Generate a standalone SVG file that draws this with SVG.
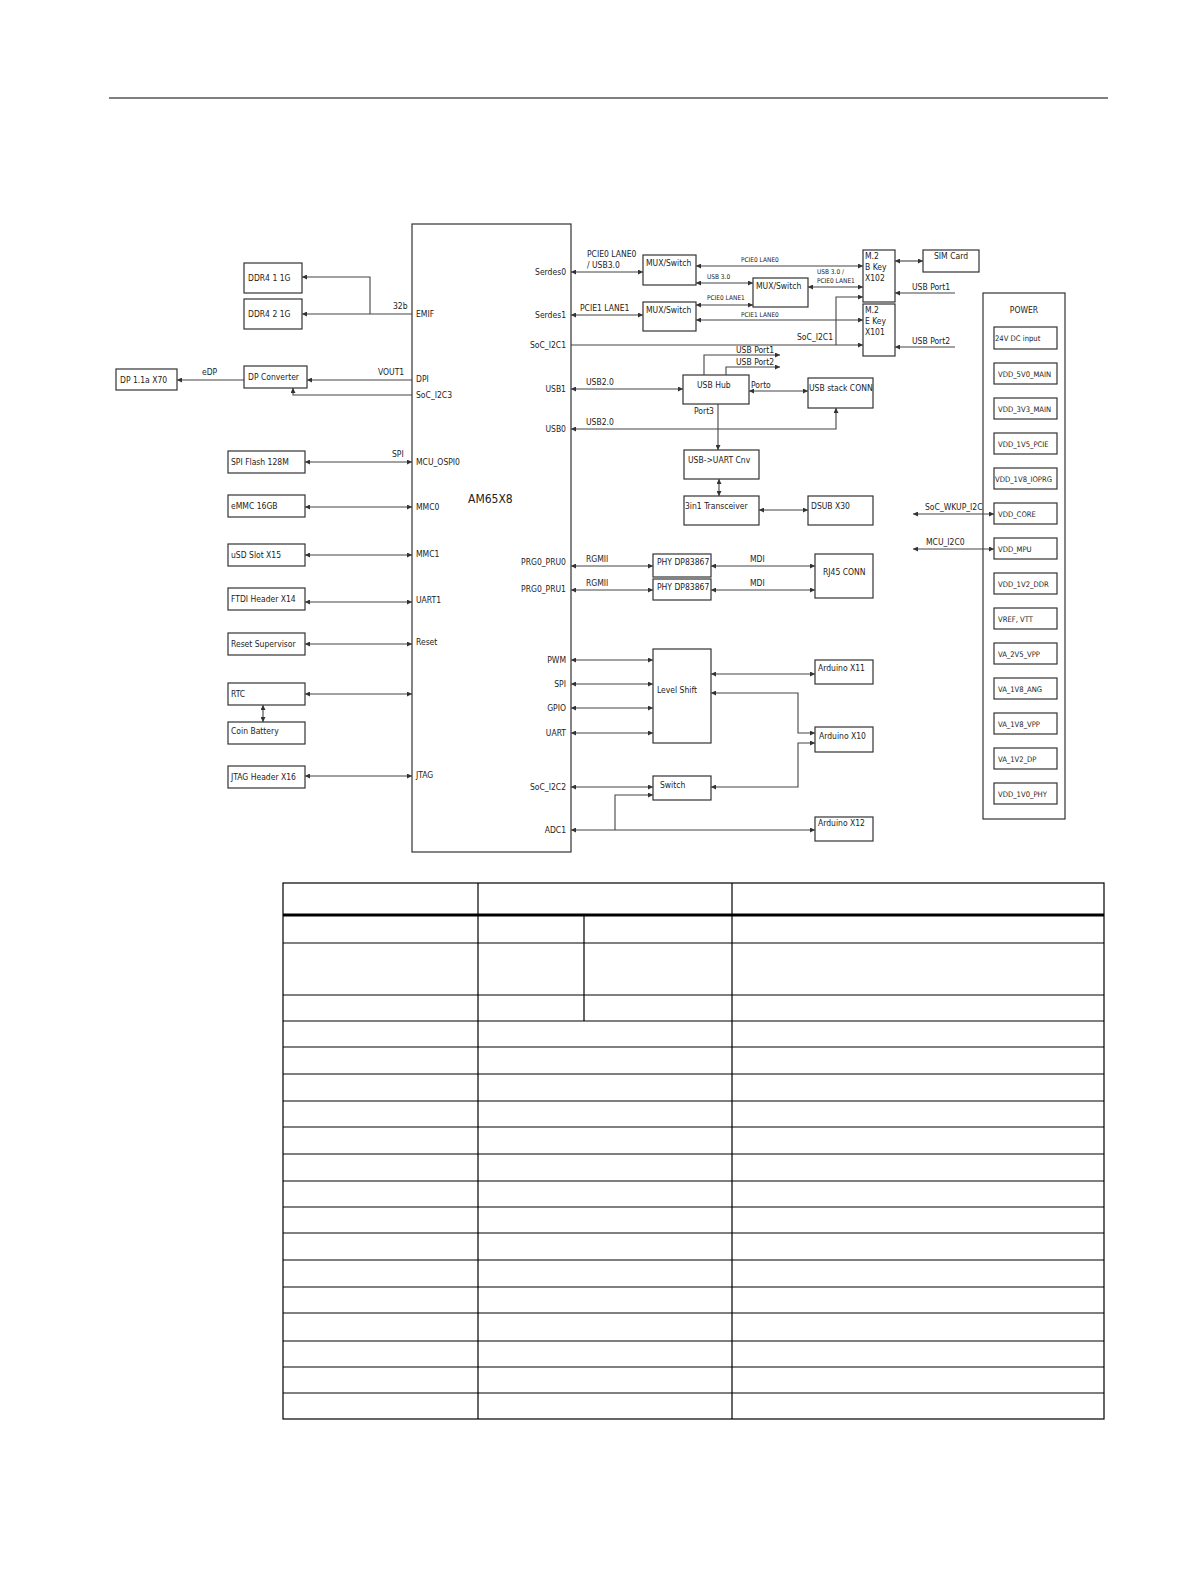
<svg xmlns="http://www.w3.org/2000/svg" width="1191" height="1587" viewBox="0 0 1191 1587">
<style>
rect{fill:#fff;stroke:#333;stroke-width:1.2}
text{font-family:"DejaVu Sans Condensed","Liberation Sans Narrow","Liberation Sans",sans-serif;font-size:8.5px;fill:#222}
.s{font-size:6.5px}
.b{font-size:12px}
#power g text{font-size:7.6px}
#connectors path,#connectors line{fill:none;stroke:#444;stroke-width:1.1}
.a2{marker-start:url(#ah);marker-end:url(#ah)}
.a1{marker-end:url(#ah)}
#table line{stroke:#000;stroke-width:1.2}
</style>
<defs>
<marker id="ah" viewBox="0 0 6 6" refX="6" refY="3" markerWidth="5" markerHeight="5" markerUnits="userSpaceOnUse" orient="auto-start-reverse"><path d="M0,0L6,3L0,6z" fill="#333"/></marker>
</defs>
<line x1="109" y1="98" x2="1108" y2="98" stroke="#000" stroke-width="1"/>

<g id="am"><rect x="412" y="224" width="159" height="628"/><text x="468" y="503" class="b">AM65X8</text>
<text x="416" y="317">EMIF</text><text x="416" y="382">DPI</text><text x="416" y="398">SoC_I2C3</text><text x="416" y="465">MCU_OSPI0</text><text x="416" y="510">MMC0</text><text x="416" y="557">MMC1</text><text x="416" y="603">UART1</text><text x="416" y="645">Reset</text><text x="416" y="778">JTAG</text>
<g text-anchor="end"><text x="566" y="275">Serdes0</text><text x="566" y="318">Serdes1</text><text x="566" y="348">SoC_I2C1</text><text x="566" y="392">USB1</text><text x="566" y="432">USB0</text><text x="566" y="565">PRG0_PRU0</text><text x="566" y="592">PRG0_PRU1</text><text x="566" y="663">PWM</text><text x="566" y="687">SPI</text><text x="566" y="711">GPIO</text><text x="566" y="736">UART</text><text x="566" y="790">SoC_I2C2</text><text x="566" y="833">ADC1</text></g></g>

<g id="ddr1"><rect x="244" y="263" width="58" height="30"/><text x="248" y="281">DDR4 1 1G</text></g>
<g id="ddr2"><rect x="244" y="299" width="58" height="30"/><text x="248" y="317">DDR4 2 1G</text></g>
<g id="dpx70"><rect x="116" y="369" width="61" height="21"/><text x="120" y="383">DP 1.1a X70</text></g>
<g id="dpconv"><rect x="244" y="366" width="63" height="22"/><text x="248" y="380">DP Converter</text></g>
<g id="spiflash"><rect x="228" y="451" width="77" height="22"/><text x="231" y="465">SPI Flash 128M</text></g>
<g id="emmc"><rect x="228" y="495" width="77" height="22"/><text x="231" y="509">eMMC 16GB</text></g>
<g id="usd"><rect x="228" y="544" width="77" height="22"/><text x="231" y="558">uSD Slot X15</text></g>
<g id="ftdi"><rect x="228" y="588" width="77" height="22"/><text x="231" y="602">FTDI Header X14</text></g>
<g id="reset"><rect x="228" y="633" width="77" height="22"/><text x="231" y="647">Reset Supervisor</text></g>
<g id="rtc"><rect x="228" y="683" width="77" height="22"/><text x="231" y="697">RTC</text></g>
<g id="coin"><rect x="228" y="722" width="77" height="22"/><text x="231" y="734">Coin Battery</text></g>
<g id="jtag"><rect x="228" y="766" width="77" height="22"/><text x="231" y="780">JTAG Header X16</text></g>

<g id="mux1"><rect x="643" y="255" width="53" height="30"/><text x="646" y="266">MUX/Switch</text></g>
<g id="mux2"><rect x="753" y="278" width="55" height="29"/><text x="756" y="289">MUX/Switch</text></g>
<g id="mux3"><rect x="643" y="302" width="53" height="29"/><text x="646" y="313">MUX/Switch</text></g>
<g id="m2b"><rect x="863" y="250" width="32" height="52"/><text x="865" y="259">M.2</text><text x="865" y="270">B Key</text><text x="865" y="281">X102</text></g>
<g id="m2e"><rect x="863" y="304" width="32" height="52"/><text x="865" y="313">M.2</text><text x="865" y="324">E Key</text><text x="865" y="335">X101</text></g>
<g id="sim"><rect x="923" y="250" width="56" height="22"/><text x="934" y="259">SIM Card</text></g>
<g id="usbhub"><rect x="683" y="375" width="66" height="29"/><text x="697" y="388">USB Hub</text></g>
<g id="usbstack"><rect x="808" y="378" width="65" height="30"/><text x="809" y="391">USB stack CONN</text></g>
<g id="uartcnv"><rect x="684" y="450" width="75" height="29"/><text x="688" y="463">USB-&gt;UART Cnv</text></g>
<g id="trans"><rect x="684" y="496" width="75" height="29"/><text x="685" y="509">3in1 Transceiver</text></g>
<g id="dsub"><rect x="808" y="496" width="65" height="29"/><text x="811" y="509">DSUB X30</text></g>
<g id="phy1"><rect x="653" y="554" width="58" height="23"/><text x="657" y="565">PHY DP83867</text></g>
<g id="phy2"><rect x="653" y="579" width="58" height="21"/><text x="657" y="590">PHY DP83867</text></g>
<g id="rj45"><rect x="815" y="554" width="58" height="44"/><text x="823" y="575">RJ45 CONN</text></g>
<g id="lvl"><rect x="653" y="649" width="58" height="94"/><text x="657" y="693">Level Shift</text></g>
<g id="ard11"><rect x="815" y="660" width="58" height="24"/><text x="818" y="671">Arduino X11</text></g>
<g id="ard10"><rect x="815" y="727" width="58" height="25"/><text x="819" y="739">Arduino X10</text></g>
<g id="sw"><rect x="653" y="776" width="58" height="24"/><text x="660" y="788">Switch</text></g>
<g id="ard12"><rect x="815" y="817" width="58" height="24"/><text x="818" y="826">Arduino X12</text></g>

<g id="power"><rect x="983" y="293" width="82" height="526"/><text x="1024" y="313" text-anchor="middle">POWER</text>
<g id="p1"><rect x="994" y="327" width="63" height="22"/><text x="995" y="341">24V DC input</text></g>
<g id="p2"><rect x="994" y="363" width="63" height="21"/><text x="998" y="377">VDD_5V0_MAIN</text></g>
<g id="p3"><rect x="994" y="398" width="63" height="21"/><text x="998" y="412">VDD_3V3_MAIN</text></g>
<g id="p4"><rect x="994" y="433" width="63" height="21"/><text x="998" y="447">VDD_1V5_PCIE</text></g>
<g id="p5"><rect x="994" y="468" width="63" height="21"/><text x="995" y="482">VDD_1V8_IOPRG</text></g>
<g id="p6"><rect x="994" y="503" width="63" height="21"/><text x="998" y="517">VDD_CORE</text></g>
<g id="p7"><rect x="994" y="538" width="63" height="21"/><text x="998" y="552">VDD_MPU</text></g>
<g id="p8"><rect x="994" y="573" width="63" height="21"/><text x="998" y="587">VDD_1V2_DDR</text></g>
<g id="p9"><rect x="994" y="608" width="63" height="21"/><text x="998" y="622">VREF, VTT</text></g>
<g id="p10"><rect x="994" y="643" width="63" height="21"/><text x="998" y="657">VA_2V5_VPP</text></g>
<g id="p11"><rect x="994" y="678" width="63" height="21"/><text x="998" y="692">VA_1V8_ANG</text></g>
<g id="p12"><rect x="994" y="713" width="63" height="21"/><text x="998" y="727">VA_1V8_VPP</text></g>
<g id="p13"><rect x="994" y="748" width="63" height="21"/><text x="998" y="762">VA_1V2_DP</text></g>
<g id="p14"><rect x="994" y="783" width="63" height="21"/><text x="998" y="797">VDD_1V0_PHY</text></g></g>

<g id="connectors">
<path class="a1" d="M412,314H302"/><path class="a1" d="M370,314V277H302"/>
<path class="a1" d="M412,380H307"/><path class="a1" d="M244,380H177"/><path class="a1" d="M412,395H293V388"/>
<path class="a2" d="M412,462H305"/><path class="a2" d="M412,507H305"/><path class="a2" d="M412,555H305"/><path class="a2" d="M412,602H305"/><path class="a2" d="M412,644H305"/><path class="a2" d="M412,694H305"/><path class="a2" d="M263,722V705"/><path class="a2" d="M412,776H305"/>
<path class="a2" d="M571,272H643"/><path class="a2" d="M571,315H643"/><path class="a1" d="M571,345H863"/><path class="a1" d="M836,345V297H863"/>
<path class="a2" d="M696,266H863"/><path class="a2" d="M696,283H753"/><path class="a2" d="M808,287H863"/><path class="a2" d="M696,305H753"/><path class="a2" d="M696,320H863"/>
<path class="a2" d="M895,261H923"/><path class="a1" d="M955,293H895"/><path class="a1" d="M955,347H895"/>
<path class="a2" d="M571,389H683"/><path class="a1" d="M704,375V355H780"/><path class="a1" d="M726,375V367H780"/><path class="a2" d="M749,391H808"/>
<path class="a2" d="M571,429H836V408"/><path class="a1" d="M718,404V450"/><path class="a2" d="M719,479V496"/><path class="a2" d="M759,510H808"/>
<path class="a2" d="M571,566H653"/><path class="a2" d="M571,590H653"/><path class="a2" d="M711,566H815"/><path class="a2" d="M711,590H815"/>
<path class="a2" d="M571,660H653"/><path class="a2" d="M571,684H653"/><path class="a2" d="M571,708H653"/><path class="a2" d="M571,733H653"/>
<path class="a2" d="M711,674H815"/><path class="a2" d="M711,693H798V733H815"/><path class="a2" d="M815,743H798V787H711"/>
<path class="a2" d="M571,787H653"/><path class="a2" d="M571,830H815"/><path class="a1" d="M615,830V795H653"/>
<path class="a2" d="M913,514H994"/><path class="a2" d="M913,549H994"/>
</g>
<g id="labels">
<text x="393" y="309">32b</text><text x="202" y="375">eDP</text><text x="378" y="375">VOUT1</text><text x="392" y="457">SPI</text>
<text x="587" y="257">PCIE0 LANE0</text><text x="587" y="268">/ USB3.0</text><text x="580" y="311">PCIE1 LANE1</text><text x="797" y="340">SoC_I2C1</text>
<text x="741" y="262" class="s">PCIE0 LANE0</text><text x="707" y="279" class="s">USB 3.0</text><text x="817" y="274" class="s">USB 3.0 /</text><text x="817" y="283" class="s">PCIE0 LANE1</text><text x="707" y="300" class="s">PCIE0 LANE1</text><text x="741" y="317" class="s">PCIE1 LANE0</text>
<text x="912" y="290">USB Port1</text><text x="912" y="344">USB Port2</text>
<text x="736" y="353">USB Port1</text><text x="736" y="365">USB Port2</text><text x="751" y="388">Porto</text><text x="694" y="414">Port3</text>
<text x="586" y="385">USB2.0</text><text x="586" y="425">USB2.0</text>
<text x="586" y="562">RGMII</text><text x="586" y="586">RGMII</text><text x="750" y="562">MDI</text><text x="750" y="586">MDI</text>
<text x="925" y="510">SoC_WKUP_I2C</text><text x="926" y="545">MCU_I2C0</text>
</g>
<g id="table">
<rect x="283" y="883" width="821" height="536" style="stroke:#000;stroke-width:1.2;fill:none"/>
<line x1="283" y1="915" x2="1104" y2="915" style="stroke-width:3"/>
<line x1="478" y1="883" x2="478" y2="1419"/><line x1="732" y1="883" x2="732" y2="1419"/><line x1="584" y1="915" x2="584" y2="1021"/>
<line x1="283" y1="943" x2="1104" y2="943"/><line x1="283" y1="995" x2="1104" y2="995"/><line x1="283" y1="1021" x2="1104" y2="1021"/><line x1="283" y1="1047" x2="1104" y2="1047"/><line x1="283" y1="1074" x2="1104" y2="1074"/><line x1="283" y1="1101" x2="1104" y2="1101"/><line x1="283" y1="1127" x2="1104" y2="1127"/><line x1="283" y1="1154" x2="1104" y2="1154"/><line x1="283" y1="1181" x2="1104" y2="1181"/><line x1="283" y1="1207" x2="1104" y2="1207"/><line x1="283" y1="1233" x2="1104" y2="1233"/><line x1="283" y1="1260" x2="1104" y2="1260"/><line x1="283" y1="1287" x2="1104" y2="1287"/><line x1="283" y1="1313" x2="1104" y2="1313"/><line x1="283" y1="1341" x2="1104" y2="1341"/><line x1="283" y1="1367" x2="1104" y2="1367"/><line x1="283" y1="1393" x2="1104" y2="1393"/>
</g>
</svg>
